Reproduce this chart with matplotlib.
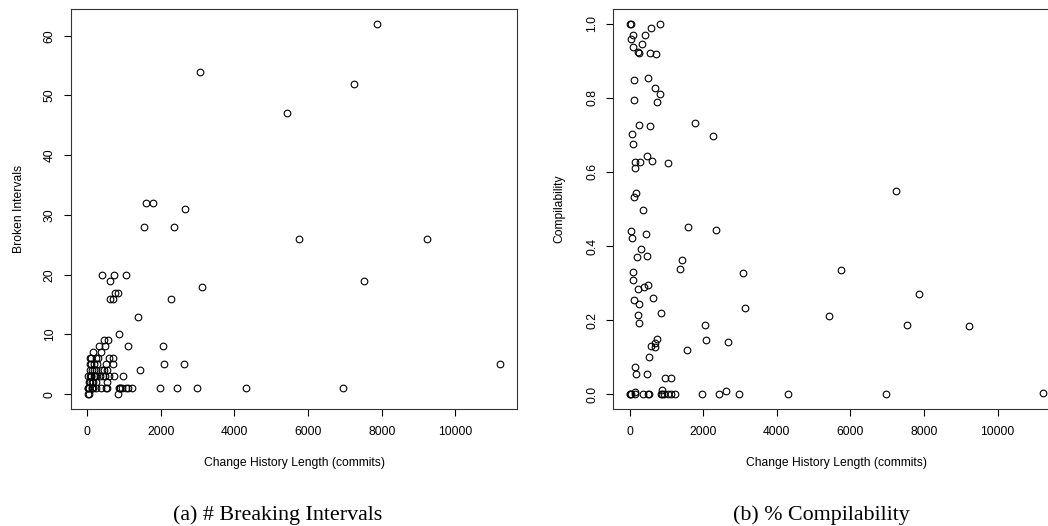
import numpy as np
import matplotlib
matplotlib.use("Agg")
import matplotlib.pyplot as plt

# one entry per project: history length, broken intervals, compilability
commits = [
    # long histories
    1375, 1430, 1555, 1595, 1790, 1968, 2053, 2080, 2267, 2362, 2444, 2620, 2666,
    2974, 3075, 3130, 4311, 5423, 5745, 6961, 7250, 7531, 7864, 9224, 11227,
    # never compilable
    8, 25, 52, 142, 371, 499, 526, 853, 889, 935, 1040, 1117, 1226,
    # always compilable
    8, 44, 834,
    # the rest
    27, 35, 63, 71, 82, 82, 82, 90, 98, 109, 109, 117, 125, 136, 144, 144, 153,
    172, 180, 191, 218, 226, 234, 245, 245, 245, 262, 280,
    316, 345, 375, 398, 414, 436, 463, 468, 479, 494, 507, 525, 548, 560, 582,
    588, 607, 626, 692, 692, 702, 730, 739, 747, 833, 856, 880, 965, 1042, 1115,
]
broken = [
    13, 4, 28, 32, 32, 1, 8, 5, 16, 28, 1, 5, 31,
    1, 54, 18, 1, 47, 26, 1, 52, 19, 62, 26, 5,
    1, 1, 1, 1, 1, 1, 1, 1, 1, 1, 1, 1, 1,
    0, 0, 0,
    3, 2, 6, 4, 3, 5, 2, 5, 3, 3, 6, 2, 4, 1, 2, 1, 7,
    4, 5, 3, 3, 6, 2, 1, 4, 3, 5, 6,
    8, 3, 7, 4, 20, 3, 9, 4, 8, 3, 5, 2, 4, 9, 6,
    3, 19, 16, 16, 6, 5, 20, 3, 17, 17, 10, 1, 3, 20, 8,
]
compilability = [
    0.338, 0.362, 0.119, 0.451, 0.731, 0.0, 0.186, 0.146, 0.698, 0.443, 0.0, 0.009, 0.141,
    0.0, 0.328, 0.233, 0.0, 0.212, 0.334, 0.0, 0.549, 0.187, 0.271, 0.185, 0.003,
    0, 0, 0, 0, 0, 0, 0, 0, 0, 0, 0, 0, 0,
    1.0, 1.0, 1.0,
    0.960, 0.440, 0.421, 0.703, 0.971, 0.676, 0.309, 0.330, 0.937, 0.848, 0.255, 0.795,
    0.532, 0.626, 0.073, 0.007, 0.612, 0.543, 0.054, 0.370, 0.213, 0.924, 0.285, 0.921,
    0.244, 0.192, 0.727, 0.626,
    0.393, 0.946, 0.496, 0.289, 0.969, 0.433, 0.372, 0.643, 0.055, 0.295, 0.854, 0.101,
    0.725, 0.921, 0.130, 0.988, 0.630, 0.261, 0.827, 0.139, 0.128, 0.918, 0.150, 0.789,
    0.810, 0.219, 0.012, 0.045, 0.624, 0.044,
]

xlabel = "Change History Length (commits)"
captions = ["(a) # Breaking Intervals", "(b) % Compilability"]

sans = "Liberation Sans"
serif = "Liberation Serif"


def r_range(v):
    # R style axis range, 4% padding on each side
    lo, hi = min(v), max(v)
    pad = 0.04 * (hi - lo)
    return lo - pad, hi + pad


fig = plt.figure(figsize=(10.48, 5.26), dpi=100)
W, H = 1048.0, 526.0

ax1 = fig.add_axes([71 / W, 1 - 409 / H, 446 / W, 400 / H])
ax2 = fig.add_axes([613.3 / W, 1 - 409 / H, 446 / W, 400 / H])

panels = [
    (ax1, broken, "Broken Intervals", np.arange(0, 61, 10), None),
    (ax2, compilability, "Compilability", np.arange(0, 1.01, 0.2), "%.1f"),
]

for ax, yvals, ylab, yticks, fmt in panels:
    ax.plot(commits, yvals, "o", ms=4.8, mfc="none", mec="black", mew=0.8)
    ax.set_xlim(*r_range(commits))
    ax.set_ylim(*r_range(yvals))
    ax.set_xticks(np.arange(0, 10001, 2000))
    ax.set_yticks(yticks)
    if fmt:
        ax.set_yticklabels([fmt % t for t in yticks])
    ax.tick_params(direction="out", length=5, width=0.8, pad=7,
                   labelsize=8.7, colors="black")
    ax.tick_params(axis="y", labelrotation=90, pad=6)
    for lab in ax.get_yticklabels():
        lab.set_va("center")
        lab.set_family(sans)
    for lab in ax.get_xticklabels():
        lab.set_family(sans)
    for s in ax.spines.values():
        s.set_linewidth(0.8)
        s.set_color("#333333")
    ax.set_xlabel(xlabel, fontsize=8.7, family=sans, va="center")
    ax.xaxis.set_label_coords(0.5, -0.136)
    ax.set_ylabel(ylab, fontsize=8.7, family=sans, va="center")

ax1.yaxis.set_label_coords(-0.1166, 0.5)
ax2.yaxis.set_label_coords(-0.1217, 0.5)

fig.text(278 / W, 1 - 515 / H, captions[0], family=serif, fontsize=15.8,
         ha="center", va="center")
fig.text(821 / W, 1 - 515 / H, captions[1], family=serif, fontsize=15.8,
         ha="center", va="center")

fig.savefig("out.png", dpi=100)
